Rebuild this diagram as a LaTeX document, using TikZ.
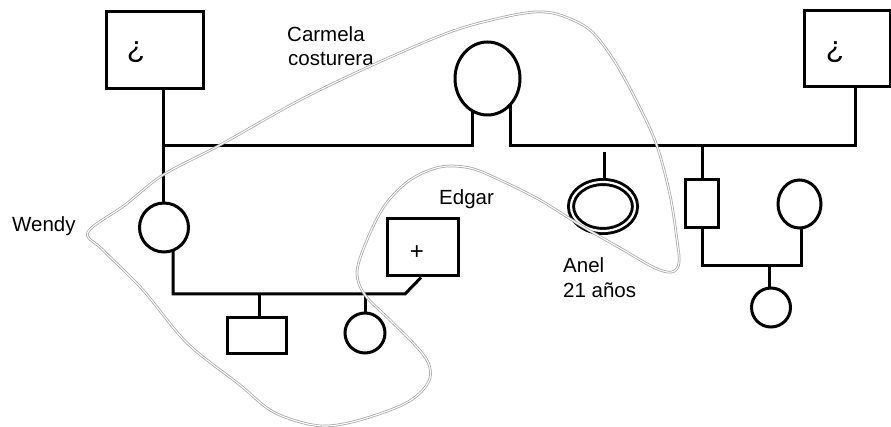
\documentclass[tikz,border=0pt]{standalone}
\usepackage{fontspec}
\setmainfont{Liberation Sans}
\usetikzlibrary{shapes.geometric}
\pgfdeclarelayer{bg}
\pgfsetlayers{bg,main}
\begin{document}
\begin{tikzpicture}[x=1pt,y=-1pt,
  ln/.style={line width=3pt, line join=miter},
  person/.style={draw, fill=white, line width=3pt, inner sep=0pt},
  male/.style={person, rectangle},
  female/.style={person, ellipse},
  lbl/.style={font=\fontsize{20.5}{24}\selectfont, inner sep=0pt},
  qm/.style={font=\fontsize{30}{32}\selectfont, inner sep=0pt},
  lasso/.style={draw=gray!70, double=white, double distance=1.1pt, line width=0.75pt}]
\useasboundingbox (0,0) rectangle (891,427);
% persons
\node[male, minimum width=97pt, minimum height=77pt] (gfL) at (154.5,50.5) {};
\node[male, minimum width=86pt, minimum height=76pt] (gfR) at (847,49) {};
\node[female, minimum width=65pt, minimum height=73pt] (carmela) at (487.5,78.5) {};
\node[female, minimum width=49pt, minimum height=49pt] (wendy) at (164,227.5) {};
\node[female, double, double distance=2.2pt, line width=2.9pt, minimum width=64pt, minimum height=49pt] (anel) at (603,206.5) {};
\node[male, minimum width=33pt, minimum height=48pt] (bro) at (701.5,204) {};
\node[female, minimum width=43pt, minimum height=48pt] (sis) at (799.5,204) {};
\node[female, minimum width=39pt, minimum height=39pt] (niece) at (771,307.5) {};
\node[male, minimum width=71pt, minimum height=57pt] (edgar) at (422.5,247.5) {};
\node[male, minimum width=59pt, minimum height=35pt] (son) at (256.5,335.5) {};
\node[female, minimum width=40pt, minimum height=40pt] (dau) at (365,333) {};
% symbols
\node[qm] (qL) at (136,52) {¿};
\node[qm] (qR) at (835,52) {¿};
\node[lbl, font=\fontsize{24}{26}\selectfont] (plus) at (417,253) {+};
% labels
\node[lbl, anchor=base west] (t1) at (287,42) {Carmela};
\node[lbl, anchor=base west] (t2) at (288,66) {costurera};
\node[lbl, anchor=base west] (tw) at (12,232) {Wendy};
\node[lbl, anchor=base west] (te) at (439,205) {Edgar};
\node[lbl, anchor=base west] (ta1) at (563,273) {Anel};
\node[lbl, anchor=base west] (ta2) at (563,298) {21 años};
% connectors
\begin{pgfonlayer}{bg}
\draw[ln] (163,0 |- gfL.center) -- (163,0 |- wendy.center);
\draw[ln] (163,146) -- (472,146) -- (472,0 |- carmela.center);
\draw[ln] (510,0 |- carmela.center) -- (510,146) -- (855,146) -- (855,0 |- gfR.center);
\draw[ln] (604,152) -- (604,0 |- anel.north);
\draw[ln] (702,146) -- (702,0 |- bro.center);
\draw[ln] (702,0 |- bro.center) -- (702,266) -- (801,266) -- (801,0 |- sis.center);
\draw[ln] (769,266) -- (769,0 |- niece.center);
\draw[ln] (173,0 |- wendy.center) -- (173,294) -- (405,294) -- (421,0 |- edgar.south);
\draw[ln] (259,294) -- (259,0 |- son.center);
\draw[ln] (365,294) -- (dau.center);
\end{pgfonlayer}
% lasso
\draw[lasso] plot[smooth cycle, tension=0.55] coordinates {
(88,232) (125,205) (163,175) (220,145) (300,100) (377,63) (450,32) (500,18)
(535,12) (560,15) (590,30) (615,62) (640,108) (657,146) (670,195) (677,240)
(679,263) (672,272) (655,268) (620,248) (580,225) (540,200) (500,180) (470,168)
(440,167) (410,180) (385,205) (367,240) (357,272) (365,295) (390,320) (415,345)
(428,362) (430,378) (420,393) (400,406) (360,420) (327,426) (300,422) (270,410)
(240,385) (187,343) (143,290) (103,250)};
\end{tikzpicture}
\end{document}
